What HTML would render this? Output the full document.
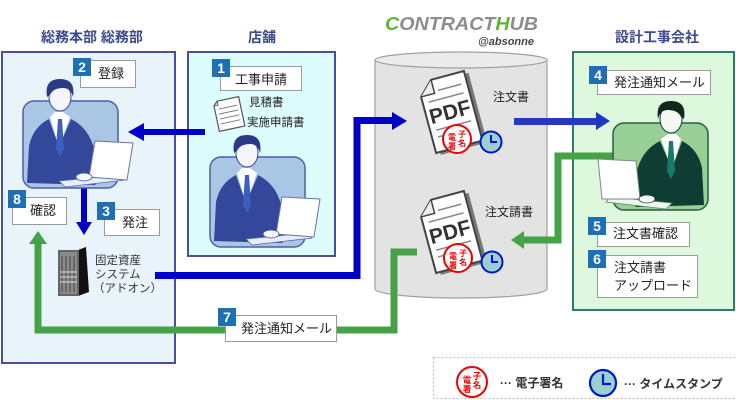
<!DOCTYPE html>
<html><head><meta charset="utf-8"><style>
html,body{margin:0;padding:0;background:#fff;}
svg{display:block;font-family:"Liberation Sans","Noto Sans CJK JP",sans-serif;}
</style></head><body>
<svg width="736" height="400" viewBox="0 0 736 400" xmlns="http://www.w3.org/2000/svg">
<!-- Titles -->
<text x="92" y="42" text-anchor="middle" font-size="14" font-weight="bold" fill="#3b4a8c">総務本部 総務部</text>
<text x="262" y="42" text-anchor="middle" font-size="14" font-weight="bold" fill="#3b4a8c">店舗</text>
<text x="657" y="42" text-anchor="middle" font-size="14" font-weight="bold" fill="#3b4a8c">設計工事会社</text>

<!-- Logo -->
<text x="385" y="30" font-size="18" font-weight="bold" font-style="italic" fill="#8c8c8c" textLength="153" lengthAdjust="spacingAndGlyphs"><tspan fill="#5cb531">C</tspan>ONTRACT<tspan fill="#5cb531">H</tspan>UB</text>
<text x="478" y="45" font-size="11" font-weight="bold" font-style="italic" fill="#444" textLength="56" lengthAdjust="spacingAndGlyphs">@absonne</text>

<!-- Boxes -->
<rect x="2" y="52" width="173" height="311" fill="#e9f4fa" stroke="#4b4f9b" stroke-width="2"/>
<rect x="188" y="52" width="147" height="204" fill="#dcfcfd" stroke="#4b4f9b" stroke-width="2"/>
<rect x="573" y="52" width="161" height="258" fill="#ddf8dc" stroke="#2f7a6a" stroke-width="2"/>

<!-- Cylinder -->
<path d="M375,60 L375,289 A86,9 0 0 0 547,289 L547,60" fill="#e3e3e3" stroke="#a0a0a0" stroke-width="1.2"/>
<ellipse cx="461" cy="60" rx="86" ry="8" fill="#ebebeb" stroke="#a0a0a0" stroke-width="1.2"/>

<!-- Blue connectors -->
<g fill="#0000c8">
  <rect x="143" y="129" width="62" height="6"/>
  <polygon points="128,132 144,123 144,141"/>
  <rect x="81" y="187" width="6" height="36"/>
  <polygon points="84,235 76,222 92,222"/>
  <polyline points="155,275.5 357,275.5 357,120.5 393,120.5" fill="none" stroke="#0000c8" stroke-width="7"/>
  <polygon points="407,121 392,112 392,130"/>
</g>
<rect x="514" y="118" width="84" height="7" fill="#2438c4"/>
<polygon points="610,121 596,112 596,130" fill="#1f35c4"/>

<!-- Green connectors -->
<g fill="none" stroke="#45a247" stroke-width="7">
  <polyline points="616,156 558,156 558,240 522,240"/>
  <polyline points="417,252 394,252 394,330 38,330 38,242"/>
</g>
<polygon points="511,240 524,231 524,249" fill="#45a247"/>
<polygon points="38,231 29,244 47,244" fill="#45a247"/>

<!-- Person left (blue) -->
<g transform="translate(23,101)">
 <rect x="0" y="0" width="95" height="87" rx="11" fill="#a9c6e4" stroke="#4b5fa8" stroke-width="1.5"/>
 <path d="M4,82 L6,45 Q10,26 26,18 L36,46 L48,18 Q64,26 70,44 L80,72 L72,84 Z" fill="#34489b"/>
 <path d="M27,16 L36,46 L47,16 L40,11 L32,11 Z" fill="#fff"/>
 <path d="M35,18 L39,18 L41,48 L37,56 L33,48 Z" fill="#3a5fbf"/>
 <ellipse cx="37" cy="-4" rx="11" ry="14" fill="#f4f6fb" stroke="#34489b"/>
 <path d="M24,-4 Q21,-22 37,-22 Q53,-22 50,-4 Q48,-13 40,-13 Q30,-13 27,-6 Z" fill="#2a3a85"/>
 <path d="M36,80 L98,74 L102,79 L42,86 Z" fill="#e8eef8" stroke="#5a6ab0" stroke-width="0.8"/>
 <path d="M72,40 L110,42 L104,79 L66,76 Z" fill="#fff" stroke="#6a72a8"/>
 <ellipse cx="61" cy="76" rx="8" ry="4" fill="#f4f6fb" stroke="#34489b" stroke-width="0.8"/>
</g>
<!-- Person shop (blue) -->
<g transform="translate(210,157)">
 <rect x="0" y="0" width="95" height="90" rx="11" fill="#a9c6e4" stroke="#4b5fa8" stroke-width="1.5"/>
 <path d="M4,84 L6,45 Q10,26 26,18 L36,46 L48,18 Q64,26 70,44 L80,72 L72,86 Z" fill="#34489b"/>
 <path d="M27,16 L36,46 L47,16 L40,11 L32,11 Z" fill="#fff"/>
 <path d="M35,18 L39,18 L41,48 L37,56 L33,48 Z" fill="#3a5fbf"/>
 <ellipse cx="37" cy="-4" rx="11" ry="14" fill="#f4f6fb" stroke="#34489b"/>
 <path d="M24,-4 Q21,-22 37,-22 Q53,-22 50,-4 Q48,-13 40,-13 Q30,-13 27,-6 Z" fill="#2a3a85"/>
 <path d="M36,82 L98,76 L102,81 L42,88 Z" fill="#e8eef8" stroke="#5a6ab0" stroke-width="0.8"/>
 <path d="M72,40 L110,42 L104,80 L66,77 Z" fill="#fff" stroke="#6a72a8"/>
 <ellipse cx="61" cy="77" rx="8" ry="4" fill="#f4f6fb" stroke="#34489b" stroke-width="0.8"/>
</g>
<!-- Person right (green, mirrored) -->
<g transform="translate(708,123) scale(-1,1)">
 <rect x="0" y="0" width="95" height="87" rx="11" fill="#98cf94" stroke="#2a5e44" stroke-width="1.5"/>
 <path d="M4,82 L6,45 Q10,26 26,18 L36,46 L48,18 Q64,26 70,44 L80,72 L72,84 Z" fill="#0f3d33"/>
 <path d="M27,16 L36,46 L47,16 L40,11 L32,11 Z" fill="#fff"/>
 <path d="M35,18 L39,18 L41,48 L37,56 L33,48 Z" fill="#1a7a6a"/>
 <ellipse cx="37" cy="-4" rx="11" ry="14" fill="#f4f8f4" stroke="#0f3d33"/>
 <path d="M24,-4 Q21,-22 37,-22 Q53,-22 50,-4 Q48,-13 40,-13 Q30,-13 27,-6 Z" fill="#10281f"/>
 <path d="M36,80 L98,74 L102,79 L42,86 Z" fill="#eef6ee" stroke="#5a8a70" stroke-width="0.8"/>
 <path d="M72,38 L110,36 L106,76 L68,76 Z" fill="#fff" stroke="#7a8a80"/>
 <ellipse cx="61" cy="76" rx="8" ry="4" fill="#f4f8f4" stroke="#0f3d33" stroke-width="0.8"/>
</g>

<!-- Shop document icon -->
<g transform="translate(229,114) rotate(-12)">
 <path d="M-9,-15 L13,-15 L13,15 L-13,15 L-13,-11 Z" fill="#fff" stroke="#555" stroke-width="1.2"/>
 <path d="M-9,-15 L-9,-11 L-13,-11" fill="none" stroke="#555"/>
 <g stroke="#777" stroke-width="0.9"><line x1="-9" y1="-7" x2="10" y2="-7"/><line x1="-10" y1="-2" x2="10" y2="-2"/><line x1="-10" y1="3" x2="10" y2="3"/><line x1="-10" y1="8" x2="10" y2="8"/></g>
</g>
<text x="249" y="106" font-size="11.5" fill="#222">見積書</text>
<text x="247" y="126" font-size="11.5" fill="#222">実施申請書</text>

<!-- Server icon -->
<polygon points="78,250 86,247 89,292 78,296" fill="#111"/>
<rect x="58" y="250" width="21" height="46" fill="#666"/>
<rect x="60" y="252" width="17" height="42" fill="#8a8a8a"/>
<g stroke="#444" stroke-width="1"><line x1="62" y1="256" x2="62" y2="292"/><line x1="66" y1="256" x2="66" y2="292"/><line x1="70" y1="256" x2="70" y2="292"/><line x1="74" y1="256" x2="74" y2="292"/></g>
<g stroke="#ddd" stroke-width="1"><line x1="60" y1="272" x2="77" y2="272"/><line x1="60" y1="277" x2="77" y2="277"/><line x1="60" y1="282" x2="77" y2="282"/></g>
<text x="95" y="264" font-size="11.5" fill="#333">固定資産</text>
<text x="95" y="278" font-size="11.5" fill="#333">システム</text>
<text x="93" y="292" font-size="11.5" fill="#333">（アドオン）</text>

<!-- PDF docs -->
<g transform="translate(450,112) rotate(-15)">
 <path d="M-10,-36 L24,-36 L24,36 L-24,36 L-24,-22 Z" fill="#777" transform="translate(4,3)"/>
 <path d="M-10,-36 L24,-36 L24,36 L-24,36 L-24,-22 Z" fill="#fff" stroke="#444" stroke-width="2"/>
 <path d="M-10,-36 L-10,-22 L-24,-22" fill="#eee" stroke="#444" stroke-width="1.5"/>
 <g stroke="#888" stroke-width="1.5"><line x1="-6" y1="-24" x2="18" y2="-24"/><line x1="-18" y1="-15" x2="18" y2="-15"/><line x1="-18" y1="14" x2="18" y2="14"/><line x1="-18" y1="21" x2="10" y2="21"/></g>
 <text x="0" y="7" text-anchor="middle" font-size="21" font-weight="bold" fill="#333">PDF</text>
</g>
<g transform="translate(450,232) rotate(-15)">
 <path d="M-10,-36 L24,-36 L24,36 L-24,36 L-24,-22 Z" fill="#777" transform="translate(4,3)"/>
 <path d="M-10,-36 L24,-36 L24,36 L-24,36 L-24,-22 Z" fill="#fff" stroke="#444" stroke-width="2"/>
 <path d="M-10,-36 L-10,-22 L-24,-22" fill="#eee" stroke="#444" stroke-width="1.5"/>
 <g stroke="#888" stroke-width="1.5"><line x1="-6" y1="-24" x2="18" y2="-24"/><line x1="-18" y1="-15" x2="18" y2="-15"/><line x1="-18" y1="14" x2="18" y2="14"/><line x1="-18" y1="21" x2="10" y2="21"/></g>
 <text x="0" y="7" text-anchor="middle" font-size="21" font-weight="bold" fill="#333">PDF</text>
</g>

<!-- Seals & clocks -->
<g fill="#e00" font-weight="bold" text-anchor="middle">
 <circle cx="457" cy="139" r="14" fill="#fff" stroke="#e00" stroke-width="2"/>
 <g font-size="8"><text x="452" y="140">電</text><text x="452" y="149">署</text>
 <text x="462" y="137">子</text><text x="462" y="146">名</text></g>
 <circle cx="458" cy="258" r="14" fill="#fff" stroke="#e00" stroke-width="2"/>
 <g font-size="8"><text x="453" y="259">電</text><text x="453" y="268">署</text>
 <text x="463" y="256">子</text><text x="463" y="265">名</text></g>
 <circle cx="472" cy="382" r="15" fill="#fff" stroke="#e00" stroke-width="2"/>
 <g font-size="8.5"><text x="467" y="383">電</text><text x="467" y="392">署</text>
 <text x="477" y="379">子</text><text x="477" y="388">名</text></g>
</g>
<g stroke="#0018c8">
 <circle cx="491" cy="142" r="10.5" fill="#9ccfd0" stroke-width="2"/>
 <polyline points="491,135 491,142 497,142" fill="none" stroke-width="2"/>
 <circle cx="492" cy="262" r="10.5" fill="#9ccfd0" stroke-width="2"/>
 <polyline points="492,255 492,262 498,262" fill="none" stroke-width="2"/>
 <circle cx="603" cy="383" r="13" fill="#9ccfd0" stroke-width="2.2"/>
 <polyline points="603,374 603,384 611,384" fill="none" stroke-width="2.2"/>
</g>

<text x="493" y="101" font-size="12" fill="#222">注文書</text>
<text x="485" y="216" font-size="12" fill="#222">注文請書</text>

<!-- Label boxes -->
<g fill="#fff" stroke="#9a9a9a" stroke-width="1">
 <rect x="220.5" y="66.5" width="81" height="24"/>
 <rect x="80.5" y="60.5" width="55" height="27"/>
 <rect x="12.5" y="197.5" width="54" height="27"/>
 <rect x="104.5" y="209.5" width="55" height="26"/>
 <rect x="225.5" y="315.5" width="111" height="26"/>
 <rect x="597.5" y="70.5" width="113" height="24"/>
 <rect x="597.5" y="222.5" width="92" height="24"/>
 <rect x="597.5" y="255.5" width="100" height="42"/>
</g>
<g fill="#1f6fb5">
 <rect x="212" y="59" width="18" height="18"/>
 <rect x="73" y="58" width="18" height="18"/>
 <rect x="8" y="190" width="18" height="18"/>
 <rect x="97" y="202" width="18" height="18"/>
 <rect x="218" y="308" width="18" height="18"/>
 <rect x="589" y="66" width="18" height="18"/>
 <rect x="588" y="217" width="18" height="18"/>
 <rect x="588" y="250" width="18" height="18"/>
</g>
<g fill="#fff" font-size="14" font-weight="bold" text-anchor="middle">
 <text x="221" y="73">1</text>
 <text x="82" y="72">2</text>
 <text x="17" y="204">8</text>
 <text x="106" y="216">3</text>
 <text x="227" y="322">7</text>
 <text x="598" y="80">4</text>
 <text x="597" y="231">5</text>
 <text x="597" y="264">6</text>
</g>
<g font-size="13" fill="#222">
 <text x="235" y="84">工事申請</text>
 <text x="98" y="78">登録</text>
 <text x="30" y="215">確認</text>
 <text x="122" y="227">発注</text>
 <text x="241" y="333">発注通知メール</text>
 <text x="614" y="87">発注通知メール</text>
 <text x="613" y="238">注文書確認</text>
 <text x="614" y="272">注文請書</text>
 <text x="614" y="290">アップロード</text>
</g>

<!-- Legend -->
<rect x="433.5" y="357.5" width="320" height="41" fill="none" stroke="#bbb" stroke-width="1" stroke-dasharray="2,2"/>
<text x="500" y="387" font-size="12" font-weight="bold" fill="#333">··· 電子署名</text>
<text x="624" y="388" font-size="12" font-weight="bold" fill="#333">··· タイムスタンプ</text>
</svg>
</body></html>
